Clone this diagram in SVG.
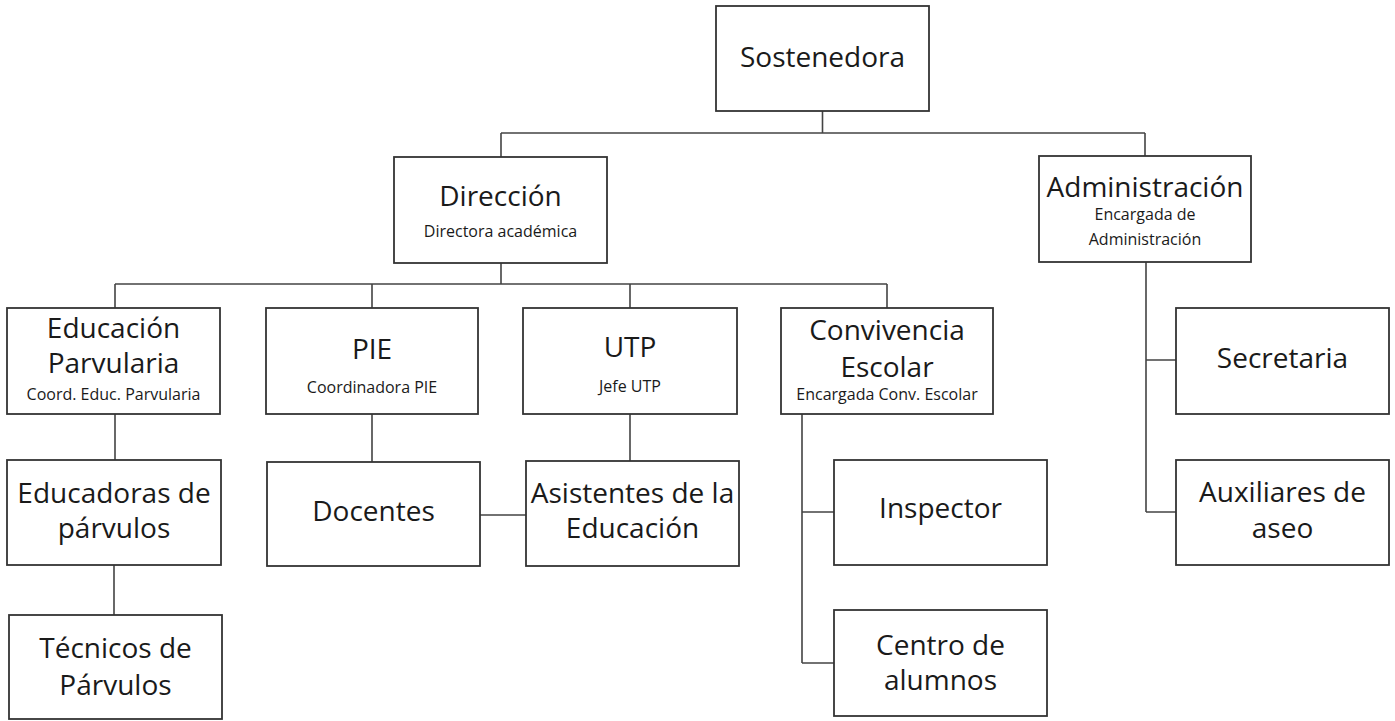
<svg xmlns="http://www.w3.org/2000/svg" width="1395" height="721" viewBox="0 0 1395 721">
<style>
.box{fill:#fff;stroke:#333;stroke-width:1.8}
.t{font-family:"Open Sans","Liberation Sans",sans-serif;font-size:28px;fill:#1a1a1a;text-anchor:middle}
.s{font-family:"Open Sans","Liberation Sans",sans-serif;font-size:16px;fill:#1a1a1a;text-anchor:middle}
.c{fill:none;stroke:#444;stroke-width:1.6}
</style>
<rect width="1395" height="721" fill="#fff"/>
<g id="connectors">
<path class="c" d="M822.5,111V133M501,133H1145M501,133V157M1145,133V156"/>
<path class="c" d="M501,263V284M115,284H887M115,284V308M372,284V308M630,284V308M887,284V308"/>
<path class="c" d="M115,414V460M114,565V615"/>
<path class="c" d="M372,414V462M630,414V461M480,515H526"/>
<path class="c" d="M802,414V663M802,512H834M802,663H834"/>
<path class="c" d="M1146,262V512M1146,360H1176M1146,512H1176"/>
</g>
<g id="sostenedora"><rect class="box" x="716" y="6" width="213" height="105"/><text class="t" x="822.5" y="67">Sostenedora</text></g>
<g id="direccion"><rect class="box" x="394" y="157" width="213" height="106"/><text class="t" x="500.5" y="206">Dirección</text><text class="s" x="500.5" y="237">Directora académica</text></g>
<g id="administracion"><rect class="box" x="1039" y="156" width="212" height="106"/><text class="t" x="1145" y="197">Administración</text><text class="s" x="1145" y="220">Encargada de</text><text class="s" x="1145" y="245">Administración</text></g>
<g id="educacion-parvularia"><rect class="box" x="7" y="308" width="213" height="106"/><text class="t" x="113.5" y="338">Educación</text><text class="t" x="113.5" y="373">Parvularia</text><text class="s" x="113.5" y="400">Coord. Educ. Parvularia</text></g>
<g id="pie"><rect class="box" x="266" y="308" width="212" height="106"/><text class="t" x="372" y="359">PIE</text><text class="s" x="372" y="393">Coordinadora PIE</text></g>
<g id="utp"><rect class="box" x="523" y="308" width="214" height="106"/><text class="t" x="630" y="357">UTP</text><text class="s" x="630" y="392">Jefe UTP</text></g>
<g id="convivencia"><rect class="box" x="781" y="308" width="212" height="106"/><text class="t" x="887" y="340">Convivencia</text><text class="t" x="887" y="377">Escolar</text><text class="s" x="887" y="400">Encargada Conv. Escolar</text></g>
<g id="educadoras"><rect class="box" x="7" y="460" width="214" height="105"/><text class="t" x="114" y="503">Educadoras de</text><text class="t" x="114" y="538">párvulos</text></g>
<g id="tecnicos"><rect class="box" x="9" y="615" width="213" height="104"/><text class="t" x="115.5" y="658">Técnicos de</text><text class="t" x="115.5" y="695">Párvulos</text></g>
<g id="docentes"><rect class="box" x="267" y="462" width="213" height="104"/><text class="t" x="373.5" y="521">Docentes</text></g>
<g id="asistentes"><rect class="box" x="526" y="461" width="213" height="105"/><text class="t" x="632.5" y="503">Asistentes de la</text><text class="t" x="632.5" y="538">Educación</text></g>
<g id="inspector"><rect class="box" x="834" y="460" width="213" height="105"/><text class="t" x="940.5" y="518">Inspector</text></g>
<g id="centro-alumnos"><rect class="box" x="834" y="610" width="213" height="106"/><text class="t" x="940.5" y="655">Centro de</text><text class="t" x="940.5" y="690">alumnos</text></g>
<g id="secretaria"><rect class="box" x="1176" y="308" width="213" height="106"/><text class="t" x="1282.5" y="368">Secretaria</text></g>
<g id="auxiliares"><rect class="box" x="1176" y="460" width="213" height="105"/><text class="t" x="1282.5" y="502">Auxiliares de</text><text class="t" x="1282.5" y="538">aseo</text></g>
</svg>
